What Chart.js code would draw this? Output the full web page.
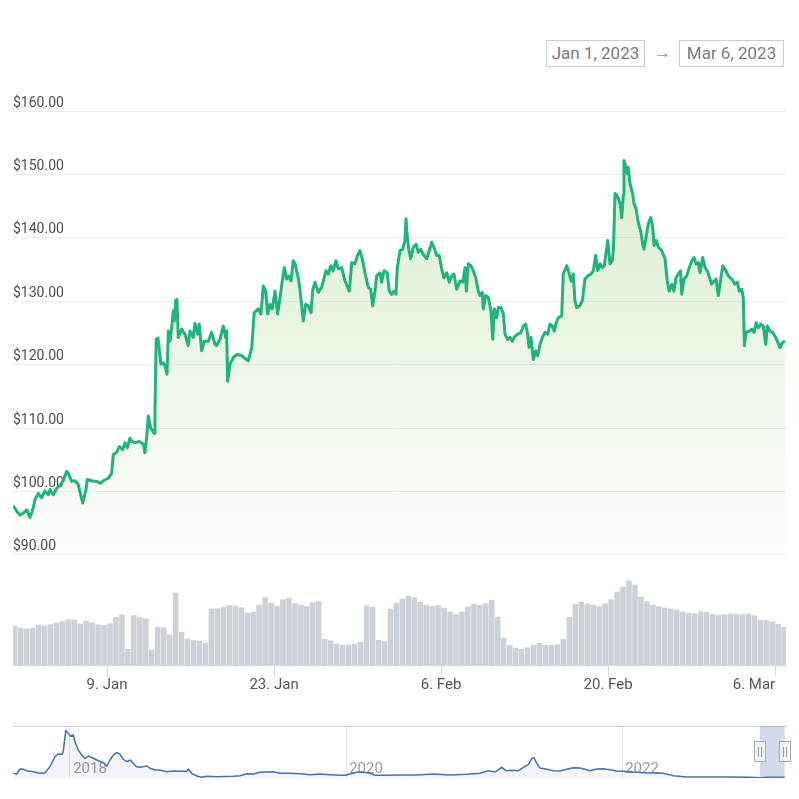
<!DOCTYPE html>
<html>
<head>
<meta charset="utf-8">
<title>Price chart</title>
<script src="https://cdn.jsdelivr.net/npm/chart.js@4.4.0/dist/chart.umd.min.js"></script>
<style>
    html, body { margin: 0; padding: 0; background: #fff; }
    body { position: relative; width: 799px; height: 799px; overflow: hidden; font-family: Roboto, sans-serif; }
    #mainChart { position: absolute; left: 0; top: 0; }
    #navChart { position: absolute; left: 0; top: 700px; }
    .range-box {
        position: absolute; top: 40px; height: 27px; box-sizing: border-box;
        border: 1px solid #cccccc; color: #7a7a7a; font-size: 17px;
        line-height: 25px; text-align: center; background: #fff;
    }
    #rangeFrom { left: 546px; width: 99px; }
    #rangeTo { left: 679px; width: 105px; }
    #rangeArrow { position: absolute; left: 654px; top: 40px; color: #888; font-size: 17px; line-height: 25px; }
</style>
</head>
<body>
<canvas id="mainChart" width="799" height="700"></canvas>
<canvas id="navChart" width="799" height="99"></canvas>
<div class="range-box" id="rangeFrom">Jan 1, 2023</div>
<div id="rangeArrow">→</div>
<div class="range-box" id="rangeTo">Mar 6, 2023</div>

<script>
// Price history (days since Jan 1, 2023)
const priceDays = [
    0.14, 0.43, 0.70, 0.98, 1.27, 1.54, 1.82, 1.96, 2.24, 2.52, 2.80, 3.08, 3.22, 3.50, 3.78, 4.06, 4.33, 4.62, 4.75, 5.04,
    5.31, 5.59, 5.96, 6.24, 6.35, 6.71, 7.13, 7.47, 7.69, 8.11, 8.39, 8.52, 8.81, 9.03, 9.31, 9.51, 9.70, 9.92, 10.07, 10.34,
    10.70, 11.04, 11.18, 11.32, 11.46, 11.66, 11.94, 12.02, 12.12, 12.27, 12.52, 12.72, 12.86, 13.03, 13.14, 13.28, 13.42, 13.55, 13.64, 13.76,
    13.86, 13.97, 14.26, 14.54, 14.81, 14.95, 15.23, 15.37, 15.60, 15.73, 15.93, 16.15, 16.49, 16.77, 17.05, 17.19, 17.47, 17.74, 17.95, 18.03,
    18.11, 18.31, 18.58, 18.87, 19.23, 19.50, 19.84, 20.13, 20.34, 20.68, 20.90, 21.10, 21.30, 21.47, 21.66, 21.85, 22.08, 22.30, 22.50, 22.69,
    22.86, 23.06, 23.25, 23.42, 23.61, 23.76, 24.03, 24.17, 24.45, 24.65, 24.87, 25.10, 25.24, 25.43, 25.71, 25.99, 26.35, 26.55, 26.75, 26.96,
    27.19, 27.38, 27.67, 27.95, 28.31, 28.51, 28.78, 28.98, 29.20, 29.43, 29.62, 29.90, 30.10, 30.27, 30.46, 30.60, 30.88, 31.02, 31.22, 31.49,
    31.66, 31.86, 32.05, 32.22, 32.33, 32.56, 32.78, 32.97, 33.06, 33.17, 33.29, 33.45, 33.67, 33.90, 34.09, 34.29, 34.51, 34.80, 35.01, 35.21,
    35.41, 35.63, 35.85, 36.05, 36.24, 36.47, 36.69, 36.89, 37.08, 37.31, 37.58, 37.81, 38.01, 38.12, 38.28, 38.51, 38.70, 38.90, 39.12, 39.26,
    39.45, 39.54, 39.74, 39.96, 40.18, 40.33, 40.46, 40.66, 40.80, 41.02, 41.22, 41.36, 41.58, 41.78, 41.97, 42.20, 42.42, 42.70, 42.89, 43.09,
    43.26, 43.37, 43.54, 43.73, 43.93, 44.10, 44.29, 44.49, 44.71, 44.94, 45.13, 45.32, 45.49, 45.61, 45.82, 46.11, 46.24, 46.53, 46.72, 46.89,
    47.08, 47.22, 47.37, 47.64, 47.84, 48.06, 48.29, 48.57, 48.76, 48.96, 49.13, 49.32, 49.51, 49.68, 49.97, 50.16, 50.35, 50.45, 50.58, 50.74,
    50.91, 51.04, 51.14, 51.27, 51.33, 51.50, 51.61, 51.69, 51.84, 52.06, 52.17, 52.34, 52.53, 52.73, 52.90, 53.01, 53.18, 53.37, 53.57, 53.74,
    53.85, 54.02, 54.21, 54.49, 54.77, 54.96, 55.13, 55.33, 55.52, 55.69, 55.88, 56.08, 56.17, 56.36, 56.59, 56.80, 57.01, 57.20, 57.37, 57.56,
    57.70, 57.93, 58.12, 58.32, 58.54, 58.68, 58.88, 59.05, 59.24, 59.38, 59.61, 59.88, 60.07, 60.36, 60.63, 60.83, 61.00, 61.20, 61.33, 61.42,
    61.56, 61.84, 62.04, 62.23, 62.40, 62.59, 62.79, 63.01, 63.21, 63.35, 63.57, 63.80, 63.99, 64.18, 64.41, 64.60, 64.83
];
const prices = [
    97.8, 96.9, 96.3, 96.6, 97.1, 95.9, 97.4, 98.7, 99.7, 99.0, 100.1, 99.5, 100.3, 99.5, 100.5, 101.0, 101.7, 103.2, 102.9, 101.6,
    101.7, 101.1, 98.2, 100.3, 101.9, 101.7, 101.6, 101.3, 101.7, 102.1, 102.9, 105.8, 106.2, 107.1, 106.6, 107.7, 106.9, 108.4, 107.9, 107.7,
    107.9, 107.5, 106.1, 108.4, 111.9, 110.0, 109.2, 112.7, 124.0, 124.2, 120.1, 120.3, 119.8, 118.5, 125.3, 123.7, 125.8, 128.5, 126.9, 130.1,
    130.3, 124.3, 125.6, 124.8, 123.0, 125.3, 124.3, 126.5, 124.8, 126.4, 122.2, 123.7, 123.7, 125.1, 123.2, 123.0, 124.0, 126.1, 124.3, 125.3,
    117.4, 120.1, 121.1, 121.6, 121.5, 121.1, 120.6, 122.7, 128.2, 128.8, 128.0, 132.4, 131.6, 128.0, 129.5, 128.8, 131.6, 128.0, 130.6, 133.2,
    135.3, 133.5, 134.0, 133.2, 136.4, 135.9, 133.7, 131.9, 126.9, 129.5, 129.3, 128.2, 131.7, 133.0, 131.4, 132.2, 134.8, 134.3, 135.6, 134.8,
    136.4, 135.1, 135.3, 133.2, 131.6, 136.1, 135.9, 137.2, 138.0, 136.4, 134.5, 132.2, 131.9, 129.3, 131.6, 134.0, 134.5, 133.0, 134.8, 134.5,
    131.6, 131.1, 131.6, 131.1, 135.3, 138.0, 138.2, 139.6, 143.0, 140.1, 138.2, 136.7, 138.5, 139.0, 137.7, 138.2, 137.4, 136.7, 138.0, 139.3,
    138.5, 137.2, 137.2, 135.1, 133.7, 134.5, 133.0, 134.0, 134.3, 131.9, 133.2, 133.0, 135.3, 131.6, 135.9, 135.6, 134.8, 133.7, 131.6, 130.9,
    131.4, 128.8, 130.9, 130.6, 128.5, 124.0, 128.8, 127.4, 129.0, 129.0, 128.0, 124.8, 124.0, 124.3, 123.7, 124.5, 124.8, 125.1, 126.1, 126.4,
    124.8, 122.7, 124.3, 120.8, 122.2, 121.4, 123.2, 124.3, 125.1, 124.8, 126.4, 126.1, 125.3, 126.4, 127.4, 127.7, 134.3, 135.6, 134.5, 133.2,
    134.3, 130.1, 129.0, 129.3, 130.1, 133.5, 134.0, 134.3, 134.8, 137.2, 134.8, 135.9, 135.3, 135.6, 139.6, 135.9, 136.4, 138.4, 147.0, 146.7,
    146.0, 145.1, 143.2, 146.7, 152.2, 151.1, 150.1, 151.1, 148.5, 146.9, 145.4, 144.6, 142.4, 141.1, 139.0, 138.2, 140.1, 142.2, 143.2, 141.7,
    138.8, 139.6, 138.5, 138.0, 136.7, 133.2, 131.6, 132.7, 131.6, 133.7, 134.3, 134.8, 131.1, 133.5, 134.0, 135.3, 136.4, 136.9, 135.9, 136.1,
    134.5, 136.9, 135.3, 134.8, 133.5, 132.7, 133.2, 133.5, 130.9, 132.7, 135.6, 134.8, 134.0, 133.5, 132.7, 133.0, 131.6, 131.9, 130.6, 123.0,
    125.1, 125.3, 125.6, 125.1, 126.6, 125.8, 126.4, 126.1, 123.2, 126.1, 125.3, 125.1, 124.5, 123.7, 122.7, 123.5, 123.7
];

// Trading volume per 12h bucket (millions), starting Jan 1 06:00
const volumes = [
    39, 37, 36.5, 37, 40, 39.5, 40.5, 42.3, 43.5, 45.5,
    45, 41.3, 44, 42.5, 40.3, 39.7, 41.5, 48, 50.5, 16,
    49.7, 47.5, 46.5, 15.3, 38, 37.5, 30, 72, 33, 26.5,
    24.7, 24, 22.5, 56.3, 56.5, 58, 59.5, 59, 57.5, 52,
    53, 60, 67.5, 62, 59, 65.5, 67, 61.5, 60, 58.5,
    62.5, 63.5, 26, 24.5, 21.5, 20, 20.3, 21.3, 23, 59.5,
    58, 25, 23.5, 56, 62, 66, 69, 67.5, 63, 60,
    58.7, 59.5, 57, 53, 50.5, 53, 58, 61, 60, 61.5,
    65, 48, 27, 20, 17, 16, 17.5, 20, 22, 20,
    20, 20.5, 26, 48, 60.5, 63, 61.3, 60, 58.5, 61.5,
    65.5, 73, 78, 84.3, 80, 68, 63.5, 60, 58.5, 57,
    56.3, 55, 53.3, 52, 51.5, 53.7, 53, 51, 50, 50.5,
    51.3, 51, 50.5, 51.3, 49.5, 44.7, 44.7, 43.5, 41, 38
];
const volumeDays = volumes.map((_, i) => 0.25 + i * 0.5);

// first tick is a blank at the left edge so the last label can be right-aligned
const dateTicks = [0.12, 8, 22, 36, 50, 64];
const dateLabels = ['', '9. Jan', '23. Jan', '6. Feb', '20. Feb', '6. Mar'];
const priceTicks = [90, 100, 110, 120, 130, 140, 150, 160];

// Navigator: full history (year, price)
const navYears = [
    2017.589, 2017.614, 2017.638, 2017.662, 2017.686, 2017.734, 2017.783, 2017.819, 2017.855, 2017.891,
    2017.915, 2017.940, 2017.951, 2017.969, 2017.988, 2018.005, 2018.024, 2018.036, 2018.060, 2018.085,
    2018.109, 2018.133, 2018.169, 2018.205, 2018.241, 2018.266, 2018.290, 2018.314, 2018.338, 2018.362,
    2018.386, 2018.411, 2018.435, 2018.459, 2018.483, 2018.507, 2018.556, 2018.580, 2018.616, 2018.652,
    2018.701, 2018.749, 2018.797, 2018.846, 2018.857, 2018.882, 2018.918, 2018.954, 2018.991, 2019.063,
    2019.183, 2019.232, 2019.280, 2019.328, 2019.377, 2019.425, 2019.473, 2019.522, 2019.594, 2019.667,
    2019.739, 2019.812, 2019.884, 2019.957, 2019.993, 2020.029, 2020.078, 2020.114, 2020.150, 2020.174,
    2020.210, 2020.270, 2020.391, 2020.512, 2020.633, 2020.754, 2020.874, 2020.971, 2021.031, 2021.080,
    2021.128, 2021.159, 2021.201, 2021.249, 2021.285, 2021.321, 2021.346, 2021.362, 2021.382, 2021.406,
    2021.454, 2021.502, 2021.551, 2021.599, 2021.647, 2021.696, 2021.732, 2021.768, 2021.817, 2021.864,
    2021.913, 2021.962, 2022.010, 2022.082, 2022.154, 2022.227, 2022.299, 2022.372, 2022.469, 2022.565,
    2022.686, 2022.807, 2022.928, 2023.000, 2023.050, 2023.100, 2023.140, 2023.178
];
const navValues = [
    428, 375, 750, 728, 623, 548, 428, 473, 923, 1673,
    1875, 1853, 2048, 3623, 3428, 3225, 3300, 2798, 2175, 1800,
    1553, 1725, 1553, 1373, 1223, 975, 1425, 1800, 1973, 1875,
    1478, 1298, 1425, 1178, 923, 878, 975, 803, 675, 675,
    548, 600, 578, 578, 728, 428, 225, 128, 203, 173,
    203, 248, 398, 375, 503, 525, 548, 428, 428, 398,
    323, 375, 323, 278, 278, 375, 503, 525, 473, 428,
    278, 278, 300, 300, 375, 300, 353, 428, 623, 525,
    878, 623, 653, 623, 878, 1073, 1553, 1598, 1178, 825,
    728, 623, 600, 728, 848, 825, 728, 623, 750, 773,
    698, 600, 578, 525, 473, 450, 428, 248, 150, 150,
    150, 150, 128, 98, 122, 134, 136, 124
];
const yearTicks = [2018, 2020, 2022];
const selection = [2023.0, 2023.178];

const FONT = 'Roboto';

function priceGradient(chart) {
    const area = chart.chartArea;
    if (!area) return 'rgba(0,0,0,0)';
    const y = chart.scales.y;
    const g = chart.ctx.createLinearGradient(0, y.getPixelForValue(160), 0, y.getPixelForValue(90));
    g.addColorStop(0, 'rgba(160, 212, 130, 0.42)');
    g.addColorStop(1, 'rgba(160, 212, 130, 0.02)');
    return g;
}

const mainChart = new Chart(document.getElementById('mainChart'), {
    type: 'line',
    data: {
        datasets: [
            {
                type: 'line',
                label: 'Price',
                data: priceDays.map((d, i) => ({ x: d, y: prices[i] })),
                yAxisID: 'y',
                borderColor: '#1fb47b',
                borderWidth: 3,
                borderJoinStyle: 'round',
                pointRadius: 0,
                tension: 0,
                fill: { value: 90 },
                backgroundColor: ctx => priceGradient(ctx.chart),
                order: 1
            },
            {
                type: 'bar',
                label: 'Volume',
                data: volumeDays.map((d, i) => ({ x: d, y: volumes[i] })),
                yAxisID: 'yVol',
                backgroundColor: '#cdd1d8',
                barPercentage: 0.93,
                categoryPercentage: 1,
                order: 2
            }
        ]
    },
    options: {
        responsive: false,
        animation: false,
        layout: { padding: { top: 111, left: 13, right: 13, bottom: 6 } },
        plugins: { legend: { display: false }, tooltip: { enabled: false } },
        scales: {
            x: {
                type: 'linear',
                min: 0.12,
                max: 64.91,
                offset: false,
                afterBuildTicks: scale => { scale.ticks = dateTicks.map(v => ({ value: v })); },
                grid: {
                    offset: false,
                    drawOnChartArea: false,
                    drawTicks: true,
                    tickLength: 11,
                    color: ctx => ctx.index === 0 ? 'rgba(0,0,0,0)' : '#ccd6eb'
                },
                border: { display: true, color: '#ccd6eb' },
                ticks: {
                    align: 'inner',
                    padding: 0,
                    color: '#555',
                    font: { family: FONT, size: 15 },
                    maxRotation: 0,
                    autoSkip: false,
                    callback: (v, i) => dateLabels[i]
                }
            },
            y: {
                type: 'linear',
                position: 'left',
                min: 72.65,
                max: 160,
                afterBuildTicks: scale => { scale.ticks = priceTicks.map(v => ({ value: v })); },
                grid: { color: '#ececec', drawTicks: false },
                border: { display: false },
                ticks: {
                    mirror: true,
                    padding: 0,
                    labelOffset: -8,
                    color: '#4d4d4d',
                    font: { family: FONT, size: 14 },
                    callback: v => '$' + Number(v).toFixed(2)
                }
            },
            yVol: { type: 'linear', min: 0, max: 552, display: false }
        }
    }
});

const selectionPlugin = {
    id: 'selection',
    afterDatasetsDraw(chart) {
        const { ctx, chartArea, scales: { x } } = chart;
        const x0 = x.getPixelForValue(selection[0]);
        const x1 = Math.min(x.getPixelForValue(selection[1]), chartArea.right);
        const cy = (chartArea.top + chartArea.bottom) / 2;
        ctx.save();
        ctx.fillStyle = 'rgba(102, 133, 194, 0.3)';
        ctx.fillRect(x0, chartArea.top, x1 - x0, chartArea.bottom - chartArea.top);
        [x0, x1].forEach(px => {
            const cx = Math.round(px);
            ctx.fillStyle = '#f2f2f2';
            ctx.strokeStyle = '#aaaaaa';
            ctx.lineWidth = 1;
            ctx.fillRect(cx - 5, cy - 10, 11, 20);
            ctx.strokeRect(cx - 5.5, cy - 10.5, 11, 20);
            ctx.strokeStyle = '#999999';
            ctx.beginPath();
            ctx.moveTo(cx - 1.5, cy - 5);
            ctx.lineTo(cx - 1.5, cy + 5);
            ctx.moveTo(cx + 1.5, cy - 5);
            ctx.lineTo(cx + 1.5, cy + 5);
            ctx.stroke();
        });
        ctx.restore();
    }
};

const navChart = new Chart(document.getElementById('navChart'), {
    type: 'line',
    data: {
        datasets: [{
            label: 'History',
            data: navYears.map((yr, i) => ({ x: yr, y: navValues[i] })),
            borderColor: '#4a6fb0',
            borderWidth: 1.5,
            pointRadius: 0,
            tension: 0,
            fill: 'origin',
            backgroundColor: 'rgba(51, 92, 173, 0.06)'
        }]
    },
    options: {
        responsive: false,
        animation: false,
        layout: { padding: { top: 26, left: 13, right: 13, bottom: 21 } },
        plugins: { legend: { display: false }, tooltip: { enabled: false } },
        scales: {
            x: {
                type: 'linear',
                min: 2017.587,
                max: 2023.188,
                afterBuildTicks: scale => { scale.ticks = yearTicks.map(v => ({ value: v })); },
                grid: { color: '#e6e6e6', drawTicks: false },
                border: { display: false },
                ticks: {
                    padding: -18,
                    labelOffset: 20,
                    color: '#999',
                    font: { family: FONT, size: 15 },
                    maxRotation: 0,
                    autoSkip: false,
                    callback: v => String(v)
                }
            },
            y: {
                min: 75,
                max: 3975,
                afterBuildTicks: scale => { scale.ticks = [{ value: 3975 }]; },
                grid: { color: '#cccccc', drawTicks: false },
                border: { display: false },
                ticks: { display: false }
            }
        }
    },
    plugins: [selectionPlugin]
});
</script>
</body>
</html>
